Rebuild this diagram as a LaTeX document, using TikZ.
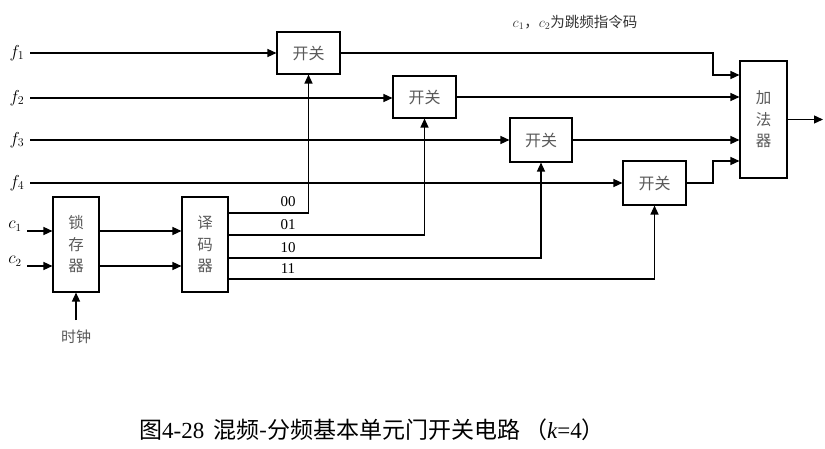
\documentclass[tikz,border=0pt]{standalone}
\usepackage{fontspec}
\newfontfamily\cjk{Noto Sans CJK SC}
\newfontfamily\tnr{Liberation Serif}
\usetikzlibrary{arrows.meta}
\begin{document}
\begin{tikzpicture}[x=1pt,y=-1pt,
  blk/.style={draw,line width=1.1pt,inner sep=0pt,font=\cjk\fontsize{16}{17}\selectfont,text=black!65},
  tall/.style={blk,align=center,font=\cjk\fontsize{15.5}{21.5}\selectfont},
  wire/.style={line width=1.3pt},
  arr/.style={wire,-{Triangle[length=9pt,width=8pt]}},
  lbl/.style={font=\fontsize{18}{18}\selectfont},
  code/.style={font=\tnr\fontsize{15}{15}\selectfont,anchor=south}]
\useasboundingbox (0,0) rectangle (825,449);
% switches
\node[blk,minimum width=63pt,minimum height=42pt] (s1) at (308.5,53) {开关};
\node[blk,minimum width=63pt,minimum height=42pt] (s2) at (424.5,97) {开关};
\node[blk,minimum width=62pt,minimum height=44pt] (s3) at (541,140) {开关};
\node[blk,minimum width=63pt,minimum height=44pt] (s4) at (654.5,183) {开关};
\node[tall,minimum width=47pt,minimum height=117pt] (add) at (763.5,119.5) {加\\法\\器};
\node[tall,minimum width=46pt,minimum height=95pt] (latch) at (76,244.5) {锁\\存\\器};
\node[tall,minimum width=46pt,minimum height=95pt] (dec) at (205,244.5) {译\\码\\器};
% input labels
\node[lbl] (f1) at (17,53) {$f_1$};
\node[lbl] (f2) at (17,98) {$f_2$};
\node[lbl] (f3) at (17,140) {$f_3$};
\node[lbl] (f4) at (17,183) {$f_4$};
\node[font=\fontsize{16}{16}\selectfont] (c1) at (15,226) {$c_1$};
\node[font=\fontsize{16}{16}\selectfont] (c2) at (15,261) {$c_2$};
\node[font=\cjk\fontsize{15}{15}\selectfont,text=black!65] (clk) at (76,337) {时钟};
\coordinate (clktop) at (76,320);
\coordinate (out) at (823,119.5);
% f inputs
\draw[arr] (30,53) -- (s1.west);
\draw[arr] (30,98) -- (s2.west|-0,98);
\draw[arr] (30,140) -- (s3.west);
\draw[arr] (30,183) -- (s4.west);
% switch outputs
\draw[arr] (s1.east) -- (713,53) -- (713,75) -- (add.west|-0,75);
\draw[arr] (s2.east) -- (add.west|-s2.east);
\draw[arr] (s3.east) -- (add.west|-s3.east);
\draw[arr] (s4.east) -- (713,183) -- (713,161) -- (add.west|-0,161);
\draw[arr] (add.east) -- (out);
% latch / decoder
\draw[arr] (27,231) -- (latch.west|-0,231);
\draw[arr] (27,266) -- (latch.west|-0,266);
\draw[arr] (clktop) -- (latch.south);
\draw[arr] (latch.east|-0,231) -- (dec.west|-0,231);
\draw[arr] (latch.east|-0,266) -- (dec.west|-0,266);
% decoder outputs
\draw[arr] (dec.east|-0,213) -- (s1.south|-0,213) -- (s1.south);
\draw[arr] (dec.east|-0,235) -- (s2.south|-0,235) -- (s2.south);
\draw[arr] (dec.east|-0,258) -- (s3.south|-0,258) -- (s3.south);
\draw[arr] (dec.east|-0,279) -- (s4.south|-0,279) -- (s4.south);
\node[code] (l00) at (288,210) {00};
\node[code] (l01) at (288,233) {01};
\node[code] (l10) at (288,256) {10};
\node[code] (l11) at (288,277) {11};
% note and caption
\node[font=\cjk\fontsize{14.5}{14.5}\selectfont,text=black!80] (note) at (575,22) {$c_1$，$c_2$为跳频指令码};
\node[font=\cjk\fontsize{23}{23}\selectfont] (cap) at (372,430) {图{\tnr 4-28}\, 混频-分频基本单元门开关电路\,（{\tnr\itshape k}{\tnr =4}）};
\end{tikzpicture}
\end{document}
